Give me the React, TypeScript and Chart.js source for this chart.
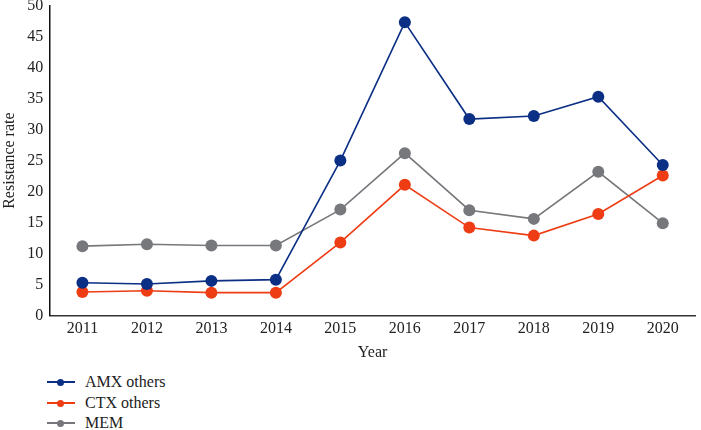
import React, { useEffect, useRef } from "react";
import { Chart, registerables } from "chart.js";

Chart.register(...registerables);

const years = ["2011", "2012", "2013", "2014", "2015", "2016", "2017", "2018", "2019", "2020"];
const amxOthers = [5.3, 5.1, 5.6, 5.8, 25.0, 47.3, 31.7, 32.2, 35.3, 24.3];
const ctxOthers = [3.8, 4.0, 3.7, 3.7, 11.8, 21.1, 14.2, 12.9, 16.4, 22.6];
const mem = [11.2, 11.5, 11.3, 11.3, 17.1, 26.2, 17.0, 15.6, 23.2, 14.9];
const seriesNames = ["AMX others", "CTX others", "MEM"];
const seriesColors = ["#0b2f84", "#ee3d14", "#76787b"];

const FONT = "'Liberation Serif', 'DejaVu Serif', serif";

export default function App() {
  const ref = useRef<HTMLCanvasElement | null>(null);

  useEffect(() => {
    if (!ref.current) return;
    const values = [amxOthers, ctxOthers, mem];
    const chart = new Chart(ref.current, {
      type: "line",
      data: {
        labels: years,
        datasets: values.map((v, i) => ({
          label: seriesNames[i],
          data: v,
          borderColor: seriesColors[i],
          backgroundColor: seriesColors[i],
          pointBackgroundColor: seriesColors[i],
          pointBorderColor: seriesColors[i],
          borderWidth: 1.6,
          pointRadius: 6,
          pointBorderWidth: 0,
          tension: 0,
          fill: false,
        })),
      },
      options: {
        animation: false,
        responsive: false,
        maintainAspectRatio: false,
        layout: { padding: { top: 0, right: 1, left: 0, bottom: 0 } },
        plugins: { legend: { display: false }, tooltip: { enabled: false } },
        scales: {
          x: {
            offset: true,
            grid: { display: false, drawTicks: false },
            border: { display: true, color: "#333", width: 1.5 },
            ticks: { color: "#222", font: { family: FONT, size: 16 }, padding: 4, maxRotation: 0 },
            title: { display: true, text: "Year", color: "#222", font: { family: FONT, size: 16 }, padding: { top: 0, bottom: 0 } },
          },
          y: {
            min: 0,
            max: 50,
            grid: { display: false, drawTicks: false },
            border: { display: true, color: "#111", width: 1.5 },
            ticks: { stepSize: 5, color: "#222", font: { family: FONT, size: 16 }, padding: 7 },
            title: { display: true, text: "Resistance rate", color: "#222", font: { family: FONT, size: 16 }, padding: { top: 0, bottom: 1 } },
          },
        },
      },
    });
    return () => chart.destroy();
  }, []);

  const legendTops = [372, 393, 413];

  return (
    <div style={{ position: "absolute", left: 0, top: 0, width: 701, height: 430, background: "#fff", overflow: "hidden" }}>
      <canvas ref={ref} width={701} height={373} style={{ position: "absolute", left: 0, top: -11, width: 701, height: 373 }} />
      {seriesNames.map((name, i) => (
        <div key={name} style={{ position: "absolute", left: 47, top: legendTops[i], height: 20, display: "flex", alignItems: "center", fontFamily: FONT, fontSize: 16, color: "#222" }}>
          <div style={{ position: "relative", width: 28, height: 20, marginRight: 10 }}>
            <div style={{ position: "absolute", left: 0, top: 9, width: 28, height: 2, background: seriesColors[i] }} />
            <div style={{ position: "absolute", left: 10, top: 6.5, width: 7, height: 7, borderRadius: "50%", background: seriesColors[i] }} />
          </div>
          <span>{name}</span>
        </div>
      ))}
    </div>
  );
}
